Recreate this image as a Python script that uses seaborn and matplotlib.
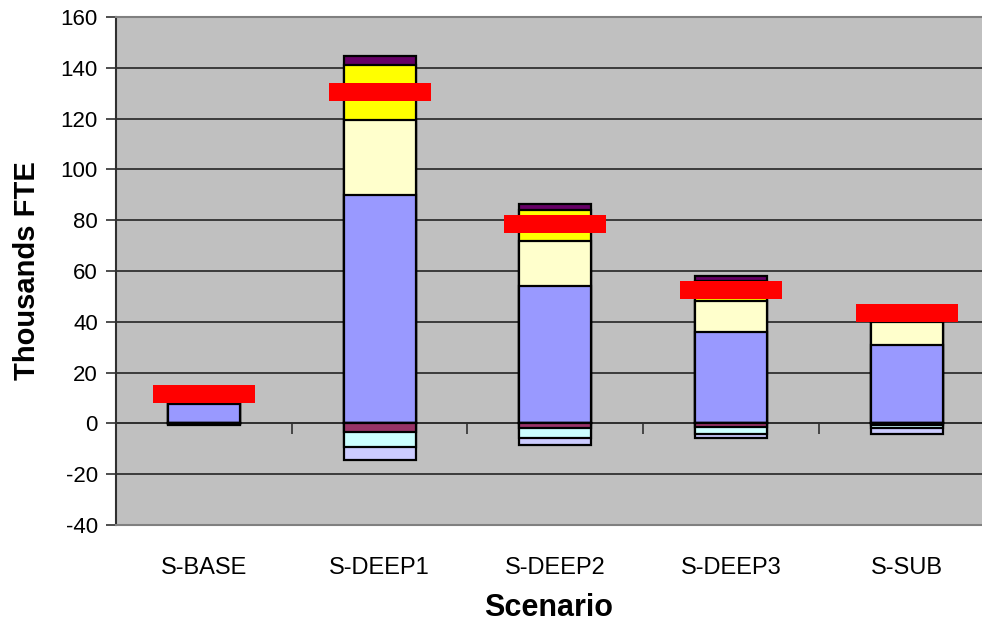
import numpy as np
import pandas as pd
import matplotlib
matplotlib.use("Agg")
import matplotlib.pyplot as plt
import seaborn as sns

# Scenario categories
scenarios = ["S-BASE", "S-DEEP1", "S-DEEP2", "S-DEEP3", "S-SUB"]

# Positive components (thousands FTE), bottom to top
comp_blue = [7.5, 90.0, 54.0, 36.0, 31.0]
comp_lightyellow = [0.0, 29.5, 18.0, 12.0, 8.8]
comp_yellow = [0.0, 21.5, 12.0, 8.0, 4.5]
comp_purple = [0.0, 3.5, 2.5, 2.0, 1.5]

# Negative components, from zero downward
comp_maroon = [-0.2, -3.5, -2.0, -1.3, -0.8]
comp_cyan = [-0.2, -5.9, -3.6, -2.9, -1.2]
comp_lavender = [-0.2, -5.1, -3.1, -1.6, -2.3]

# Net total per scenario
net_total = [11.5, 130.5, 78.5, 52.5, 43.5]

yticks = list(range(-40, 161, 20))

sns.set_theme(style="white")
plt.rcParams["font.family"] = ["Liberation Sans", "DejaVu Sans"]
plt.rcParams["text.color"] = "black"
plt.rcParams["axes.labelcolor"] = "black"

fig = plt.figure(figsize=(9.82, 6.22), dpi=100)
ax = fig.add_axes([116 / 982, 97 / 622, 1 - 116 / 982, (525 - 17) / 622])
ax.set_facecolor("#C0C0C0")

df = pd.DataFrame({
    "scenario": scenarios,
    "blue": comp_blue,
    "lightyellow": comp_lightyellow,
    "yellow": comp_yellow,
    "purple": comp_purple,
    "maroon": comp_maroon,
    "cyan": comp_cyan,
    "lavender": comp_lavender,
    "net": net_total,
})

# Cumulative stacks, drawn from the outermost segment inward
pos_order = [("blue", "#9999FF"), ("lightyellow", "#FFFFCC"),
             ("yellow", "#FFFF00"), ("purple", "#660066")]
neg_order = [("maroon", "#993366"), ("cyan", "#CCFFFF"),
             ("lavender", "#CCCCFF")]

for order in (pos_order, neg_order):
    cums = np.cumsum([df[name].values for name, _ in order], axis=0)
    for (name, color), cum in reversed(list(zip(order, cums))):
        sns.barplot(x=df["scenario"], y=cum, color=color, edgecolor="black",
                    linewidth=1.6, width=0.41, saturation=1, ax=ax,
                    zorder=3)

# Net total as a wide red bar marker
marker_verts = [(-1, -0.176), (1, -0.176), (1, 0.176), (-1, 0.176), (-1, -0.176)]
sns.scatterplot(x=df["scenario"], y=df["net"], marker=marker_verts,
                s=(102 * 0.72) ** 2, color="#FF0000", linewidth=0, ax=ax,
                zorder=5)

ax.set_xlim(-0.5, (982 - 114.7) / 176 - 0.5)
ax.set_ylim(-40, 160)
ax.set_yticks(yticks)
ax.set_yticklabels([str(v) for v in yticks], fontsize=16)
ax.tick_params(axis="y", direction="out", length=7, width=1.2,
               color="#303030", left=True, pad=6, labelcolor="black")
ax.tick_params(axis="x", length=0, labelsize=17, pad=23, labelcolor="black")

ax.yaxis.grid(True, color="#303030", linewidth=1.3, zorder=0)
ax.set_axisbelow(True)

for side in ("top", "bottom", "right"):
    ax.spines[side].set_color("#808080")
    ax.spines[side].set_linewidth(1.5)
ax.spines["right"].set_visible(False)
ax.spines["left"].set_color("#303030")
ax.spines["left"].set_linewidth(1.5)

# Category axis line at zero with separators between categories
zero_axis = ax.secondary_xaxis(40 / 200)
zero_axis.set_xticks([0.5, 1.5, 2.5, 3.5])
zero_axis.set_xticklabels([])
zero_axis.tick_params(direction="out", length=8, width=1.2, color="#303030")
zero_axis.spines["bottom"].set_color("#303030")
zero_axis.spines["bottom"].set_linewidth(1.3)

ax.set_xlabel("Scenario", fontsize=22, fontweight="bold", labelpad=10,
              color="black")
ax.set_ylabel("Thousands FTE", fontsize=21, fontweight="bold", labelpad=14,
              color="black")

fig.savefig("out.png", dpi=100)
